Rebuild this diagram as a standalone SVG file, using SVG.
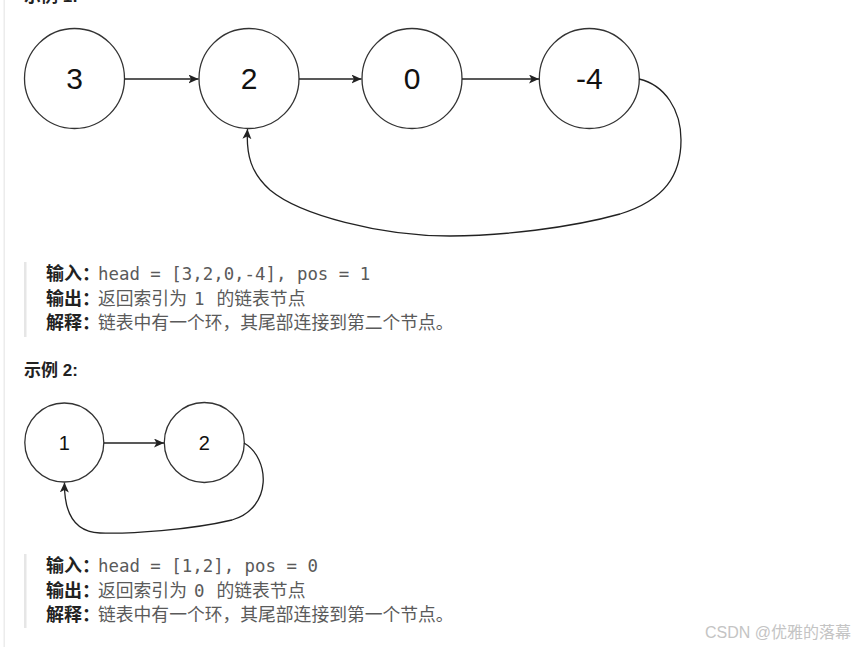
<svg xmlns="http://www.w3.org/2000/svg" width="855" height="647" viewBox="0 0 855 647">
<style>
.node circle{fill:#fff;stroke:#333;stroke-width:1.3}
.n1{font-family:"Liberation Sans",Arial,sans-serif;font-size:30px;fill:#111;text-anchor:middle}
.n2{font-family:"Liberation Sans",Arial,sans-serif;font-size:20px;fill:#111;text-anchor:middle}
.edge{fill:none;stroke:#222;stroke-width:1.3}
.title{font-family:"Liberation Sans","Noto Sans CJK SC",sans-serif;font-size:17px;font-weight:bold;fill:#222}
.lab{font-family:"Liberation Sans","Noto Sans CJK SC",sans-serif;font-size:18px;font-weight:bold;fill:#222}
.txt{font-family:"Noto Sans CJK SC",sans-serif;font-size:17.8px;fill:#5a5a5a}
.mono{font-family:"DejaVu Sans Mono","Liberation Mono",monospace;font-size:17.4px;fill:#5a5a5a}
.bar{fill:#e6e6e6}
</style>
<defs>
<marker id="ah" markerUnits="userSpaceOnUse" markerWidth="12" markerHeight="10" refX="10" refY="4.5" orient="auto">
<path d="M0,0 L10,4.5 L0,9 L2.5,4.5 Z" fill="#222"/>
</marker>
</defs>
<rect x="0" y="0" width="855" height="647" fill="#fff"/>
<rect x="3.5" y="0" width="1.5" height="647" fill="#ececec"/>

<text class="title" x="24" y="2">示例 1:</text>

<g id="n3" class="node"><circle cx="74.5" cy="78.5" r="50"/><text class="n1" x="74.5" y="88.5">3</text></g>
<g id="n2" class="node"><circle cx="249" cy="78.5" r="50"/><text class="n1" x="249" y="88.5">2</text></g>
<g id="n0" class="node"><circle cx="412" cy="78.5" r="50"/><text class="n1" x="412" y="88.5">0</text></g>
<g id="nm4" class="node"><circle cx="589.3" cy="78.5" r="50"/><text class="n1" x="589.3" y="88.5">-4</text></g>

<g id="b1" class="node"><circle cx="64.3" cy="442.5" r="39.5"/><text class="n2" x="64.3" y="450">1</text></g>
<g id="b2" class="node"><circle cx="204.3" cy="442.5" r="40"/><text class="n2" x="204.3" y="450">2</text></g>

<g id="connectors">
<path class="edge" d="M124.5,79 L198.5,79" marker-end="url(#ah)"/>
<path class="edge" d="M299,79 L361.5,79" marker-end="url(#ah)"/>
<path class="edge" d="M462,79 L539,79" marker-end="url(#ah)"/>
<path class="edge" d="M639,79 C665,85 681,110 681,140 C681,175 665,200 620,214 C570,228 500,236 450,236 C380,236 300,215 270,190 C251,173 246,155 247.5,129" marker-end="url(#ah)"/>
<path class="edge" d="M104,443 L164,443" marker-end="url(#ah)"/>
<path class="edge" d="M244,443 C270,458 273,508 232,520 C190,530 130,534 100,533 C75,532 64,515 64.5,482.5" marker-end="url(#ah)"/>
</g>

<rect class="bar" x="24" y="262" width="2.5" height="75"/>
<text class="lab" x="46" y="280">输入：</text>
<text class="mono" x="98" y="280">head = [3,2,0,-4], pos = 1</text>
<text class="lab" x="46" y="304.5">输出：</text>
<text class="txt" y="304.5"><tspan x="98">返回索引为</tspan><tspan class="mono" x="194">1</tspan><tspan x="216.5">的链表节点</tspan></text>
<text class="lab" x="46" y="329">解释：</text>
<text class="txt" x="98" y="329">链表中有一个环，其尾部连接到第二个节点。</text>

<text class="title" x="24" y="376">示例 2:</text>

<rect class="bar" x="24" y="554" width="2.5" height="74"/>
<text class="lab" x="46" y="572">输入：</text>
<text class="mono" x="98" y="572">head = [1,2], pos = 0</text>
<text class="lab" x="46" y="596.5">输出：</text>
<text class="txt" y="596.5"><tspan x="98">返回索引为</tspan><tspan class="mono" x="194">0</tspan><tspan x="216.5">的链表节点</tspan></text>
<text class="lab" x="46" y="621">解释：</text>
<text class="txt" x="98" y="621">链表中有一个环，其尾部连接到第一个节点。</text>

<text x="705" y="638" style="font-family:'Liberation Sans','Noto Sans CJK SC',sans-serif;font-size:16px;fill:#c4c4c4">CSDN @优雅的落幕</text>
</svg>
